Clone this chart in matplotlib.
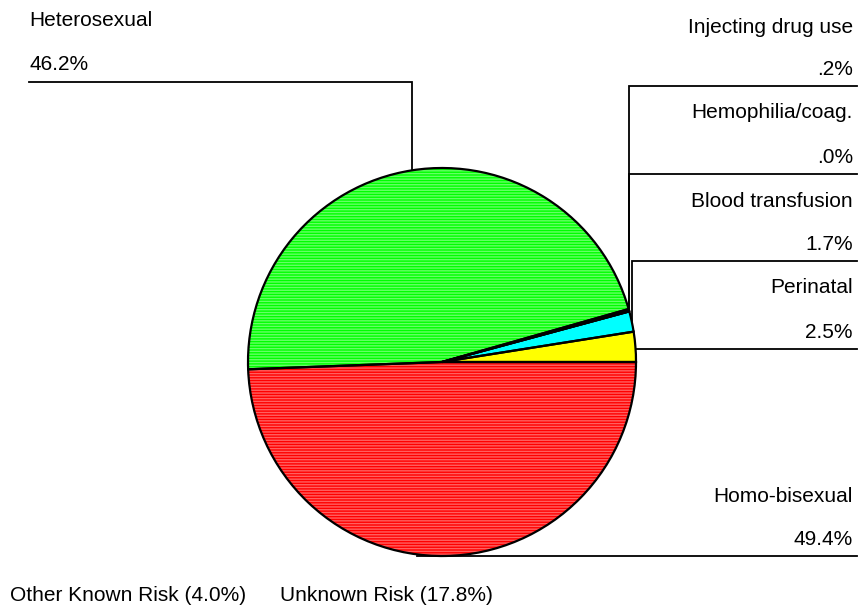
import numpy as np
import matplotlib
matplotlib.use("Agg")
import matplotlib.pyplot as plt

plt.rcParams["font.family"] = ["Liberation Sans", "DejaVu Sans"]

# exposure categories, in pie order (counter-clockwise from 3 o'clock)
categories = ["Perinatal", "Blood transfusion", "Hemophilia/coag.",
              "Injecting drug use", "Heterosexual", "Homo-bisexual"]
shares = [2.5, 1.7, 0.0, 0.2, 46.2, 49.4]
share_labels = ["2.5%", "1.7%", ".0%", ".2%", "46.2%", "49.4%"]
fill_colors = ["#ffff00", "#00ffff", "#000000", "#000000", "#00ff00", "#ff0000"]
stripe_colors = ["#ffff00", "#00ffff", "#000000", "#000000", "#66ff66", "#ff6060"]
footnotes = ["Other Known Risk (4.0%)", "Unknown Risk (17.8%)"]

W, H = 859, 607
cx, cy, r = 442, 362, 194

fig = plt.figure(figsize=(W / 100, H / 100), dpi=100)
ax = fig.add_axes([0, 0, 1, 1])

# y axis runs downward, so clockwise in data = counter-clockwise on screen
wedges, _ = ax.pie(shares, colors=fill_colors, startangle=0, counterclock=False,
                   center=(cx, cy), radius=r, normalize=True,
                   wedgeprops=dict(linewidth=0))
plt.rcParams["hatch.linewidth"] = 0.8
for w, sc in zip(wedges, stripe_colors):
    w.set_hatch("------")
    w.set_edgecolor(sc)
# outline on top
ax.pie(shares, colors=["none"] * len(shares), startangle=0, counterclock=False,
       center=(cx, cy), radius=r, normalize=True,
       wedgeprops=dict(linewidth=1.6, edgecolor="black", fill=False))

ax.set_xlim(0, W)
ax.set_ylim(H, 0)
ax.set_aspect("equal")
ax.axis("off")

# mid angle of every slice (screen angle, degrees)
edges = np.concatenate([[0], np.cumsum(shares)]) / 100 * 360
mid = (edges[:-1] + edges[1:]) / 2
ex = cx + r * np.cos(np.radians(mid))
ey = cy - r * np.sin(np.radians(mid))

lw = 1.3
fs = 15
right = 853

# right-hand labels: (index, name baseline, value baseline, rule y)
right_rows = [(3, 33, 75, 86), (2, 118, 163, 174), (1, 207, 250, 261),
              (0, 293, 338, 349), (5, 502, 545, 556)]
for i, yn, yv, yl in right_rows:
    ax.text(right, yn, categories[i], ha="right", va="baseline", fontsize=fs)
    ax.text(right, yv, share_labels[i], ha="right", va="baseline", fontsize=fs)
    if i in (1, 2, 3):
        ax.plot([857, ex[i], ex[i]], [yl, yl, ey[i]], color="black", lw=lw,
                solid_joinstyle="miter")
    elif i == 0:
        xe = cx + np.sqrt(r ** 2 - (yl - cy) ** 2)
        ax.plot([857, xe], [yl, yl], color="black", lw=lw)
    else:
        ax.plot([857, 417], [yl, yl], color="black", lw=lw)

# left-hand label
i = 4
ax.text(29, 26, categories[i], ha="left", va="baseline", fontsize=fs)
ax.text(29, 70, share_labels[i], ha="left", va="baseline", fontsize=fs)
ax.plot([29, ex[i], ex[i]], [82, 82, ey[i]], color="black", lw=lw,
        solid_joinstyle="miter")

ax.text(10, 601, footnotes[0], ha="left", va="baseline", fontsize=fs)
ax.text(280, 601, footnotes[1], ha="left", va="baseline", fontsize=fs)

fig.savefig("out.png", dpi=100)
